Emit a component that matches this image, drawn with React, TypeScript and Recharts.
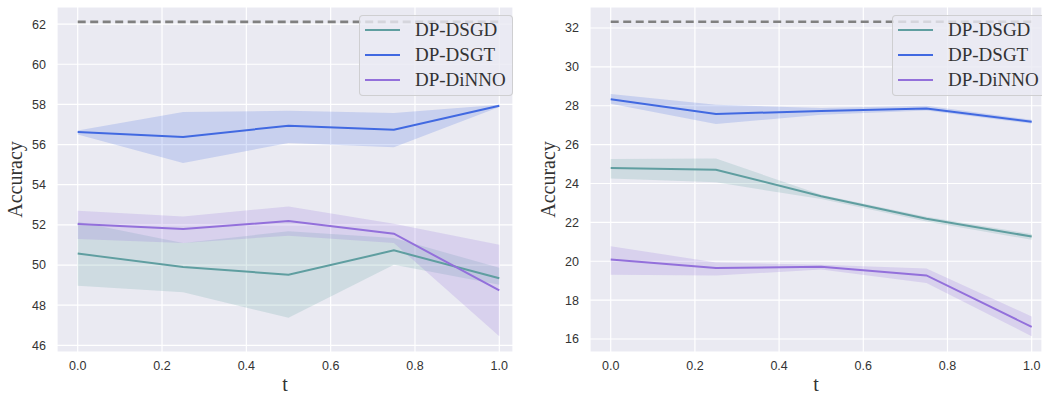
import { Area, CartesianGrid, ComposedChart, Line, XAxis, YAxis } from "recharts";

const tValues = [0, 0.25, 0.5, 0.75, 1.0];
const xTicks = [0, 0.2, 0.4, 0.6, 0.8, 1.0];
const seriesNames = ["DP-DSGD", "DP-DSGT", "DP-DiNNO"];
const seriesColors = ["#5F9EA0", "#4169E1", "#9370DB"];

// left panel
const leftYTicks = [46, 48, 50, 52, 54, 56, 58, 60, 62];
const leftBound = 62.11;
const leftDsgd = [50.57, 49.9, 49.52, 50.73, 49.34];
const leftDsgdLow = [48.97, 48.64, 47.37, 50.02, 49.02];
const leftDsgdHigh = [52.16, 51.1, 51.68, 51.35, 49.86];
const leftDsgt = [56.62, 56.38, 56.94, 56.74, 57.93];
const leftDsgtLow = [56.5, 55.08, 56.08, 55.86, 57.87];
const leftDsgtHigh = [56.7, 57.62, 57.68, 57.57, 57.98];
const leftDinno = [52.04, 51.8, 52.19, 51.56, 48.74];
const leftDinnoLow = [51.3, 51.1, 51.46, 51.1, 46.45];
const leftDinnoHigh = [52.71, 52.42, 52.92, 52.06, 51.01];

// right panel
const rightYTicks = [16, 18, 20, 22, 24, 26, 28, 30, 32];
const rightBound = 32.32;
const rightDsgd = [24.8, 24.71, 23.34, 22.19, 21.27];
const rightDsgdLow = [24.26, 24.06, 23.2, 22.05, 21.1];
const rightDsgdHigh = [25.26, 25.28, 23.42, 22.29, 21.4];
const rightDsgt = [28.33, 27.58, 27.73, 27.86, 27.18];
const rightDsgtLow = [28.1, 27.06, 27.54, 27.75, 27.08];
const rightDsgtHigh = [28.6, 28.05, 27.88, 28.0, 27.28];
const rightDinno = [20.09, 19.65, 19.71, 19.27, 16.62];
const rightDinnoLow = [19.31, 19.26, 19.57, 18.88, 16.14];
const rightDinnoHigh = [20.77, 19.94, 19.82, 19.63, 17.16];

const sans = "'Liberation Sans', Arial, sans-serif";
const serif = "'Liberation Serif', 'Times New Roman', serif";

function buildRows(means: number[][], lows: number[][], highs: number[][]) {
    return tValues.map((t, i) => {
        const row: any = { t };
        means.forEach((m, k) => {
            row["m" + k] = m[i];
            row["b" + k] = [lows[k][i], highs[k][i]];
        });
        return row;
    });
}

function LegendBox({ left }: { left: number }) {
    return (
        <div style={{
            position: "absolute", left, top: 15,
            width: 154, height: 81, boxSizing: "border-box",
            background: "rgba(234,234,242,0.8)", border: "1px solid rgba(200,200,200,0.8)",
            borderRadius: 4, paddingTop: 1,
        }}>
            {seriesNames.map((name, k) => (
                <div key={name} style={{ height: 25, display: "flex", alignItems: "center" }}>
                    <div style={{ marginLeft: 5, width: 35, height: 2, background: seriesColors[k] }} />
                    <span style={{ marginLeft: 15, fontFamily: serif, fontSize: 19, color: "#333", lineHeight: "25px" }}>
                        {name}
                    </span>
                </div>
            ))}
        </div>
    );
}

type PanelProps = {
    rows: any[];
    bound: number;
    yDomain: number[];
    yTicks: number[];
    xDomain: number[];
    width: number;
    marginLeft: number;
    marginRight: number;
};

function Panel(p: PanelProps) {
    return (
        <ComposedChart width={p.width} height={394} data={p.rows}
            margin={{ top: 7, right: p.marginRight, left: p.marginLeft, bottom: 0 }}>
            <CartesianGrid fill="#EAEAF2" stroke="#ffffff" strokeWidth={1.2} />
            <XAxis dataKey="t" type="number" domain={p.xDomain} ticks={xTicks} allowDataOverflow
                height={42} tickLine={false} axisLine={false} tickSize={0} tickMargin={9}
                tickFormatter={(v: number) => v.toFixed(1)}
                tick={{ fill: "#333", fontSize: 12.5, fontFamily: sans }}
                label={{ value: "t", position: "insideBottom", offset: 3, fill: "#333", fontSize: 20, fontFamily: serif }} />
            <YAxis type="number" domain={p.yDomain} ticks={p.yTicks} allowDataOverflow
                width={45} tickLine={false} axisLine={false} tickSize={0} tickMargin={11}
                tick={{ fill: "#333", fontSize: 12.5, fontFamily: sans }}
                label={{ value: "Accuracy", angle: -90, position: "center", dx: -19.5, fill: "#333", fontSize: 20, fontFamily: serif }} />
            {seriesNames.map((name, k) => (
                <Area key={"band" + k} dataKey={"b" + k} type="linear" stroke="none"
                    fill={seriesColors[k]} fillOpacity={0.2} isAnimationActive={false} legendType="none" />
            ))}
            {seriesNames.map((name, k) => (
                <Line key={"line" + k} dataKey={"m" + k} name={name} type="linear" stroke={seriesColors[k]}
                    strokeWidth={2} dot={false} activeDot={false} isAnimationActive={false} />
            ))}
            <Line dataKey={() => p.bound} type="linear" stroke="#808080" strokeWidth={2.6}
                strokeDasharray="8 4.5" dot={false} activeDot={false} isAnimationActive={false} legendType="none" />
        </ComposedChart>
    );
}

export default function App() {
    const leftRows = buildRows(
        [leftDsgd, leftDsgt, leftDinno],
        [leftDsgdLow, leftDsgtLow, leftDinnoLow],
        [leftDsgdHigh, leftDsgtHigh, leftDinnoHigh]
    );
    const rightRows = buildRows(
        [rightDsgd, rightDsgt, rightDinno],
        [rightDsgdLow, rightDsgtLow, rightDinnoLow],
        [rightDsgdHigh, rightDsgtHigh, rightDinnoHigh]
    );
    return (
        <div style={{ position: "absolute", left: 0, top: 0, width: 1042, height: 394, background: "#fff", overflow: "hidden" }}>
            <div style={{ position: "absolute", left: 0, top: 0 }}>
                <Panel rows={leftRows} bound={leftBound} yDomain={[45.67, 62.85]} yTicks={leftYTicks}
                    xDomain={[-0.0491, 1.0325]} width={520} marginLeft={12} marginRight={7} />
                <LegendBox left={359} />
            </div>
            <div style={{ position: "absolute", left: 520, top: 0 }}>
                <Panel rows={rightRows} bound={rightBound} yDomain={[15.33, 33.08]} yTicks={rightYTicks}
                    xDomain={[-0.0492, 1.0245]} width={522} marginLeft={25} marginRight={0} />
                <LegendBox left={372} />
            </div>
        </div>
    );
}
